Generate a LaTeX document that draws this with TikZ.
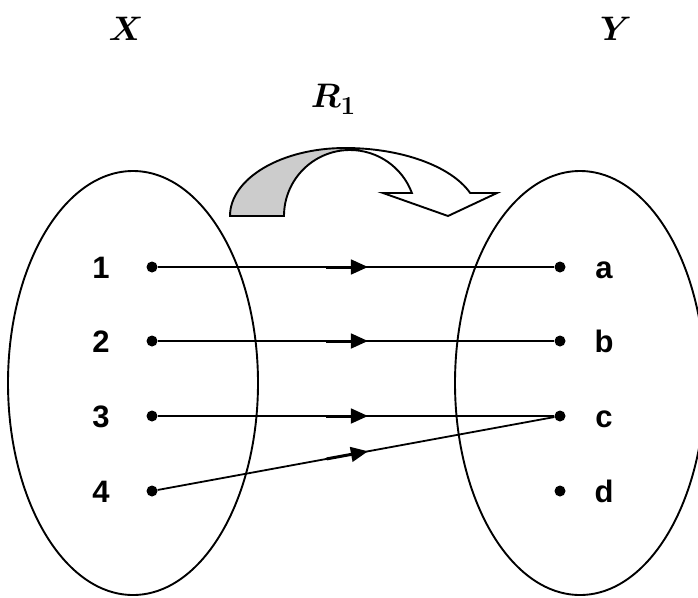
\RequirePackage{fix-cm}
\documentclass[tikz,border=0pt]{standalone}
\usepackage{fontspec}
\setmainfont{Liberation Sans}
\usetikzlibrary{shapes.geometric,arrows.meta,decorations.markings}
\begin{document}
\begin{tikzpicture}[x=1pt,y=-1pt,
  set/.style={draw,ellipse,line width=1.9pt,minimum width=250pt,minimum height=424pt,inner sep=0},
  dot/.style={circle,fill=black,inner sep=0,minimum size=11pt},
  lbl/.style={font=\fontsize{31}{36}\selectfont\bfseries,anchor=base,inner sep=0},
  map/.style={line width=1.8pt,postaction={decorate},decoration={markings,mark=at position 0.53 with {\draw[line width=3pt] (-42pt,0) -- (-12pt,0); \arrow{Triangle[length=17pt,width=15pt]}}}},
  ttl/.style={font=\fontsize{34}{40}\selectfont\boldmath},
  band/.style={line width=1.9pt,line join=miter}]
\useasboundingbox (0,0) rectangle (698,597);
% sets
\node[set] (SX) at (133,383) {};
\node[set] (SY) at (580,383) {};
% titles
\node[ttl] (tx) at (126,29) {$X$};
\node[ttl] (ty) at (616,29) {$Y$};
\node[ttl] (tr) at (333,99) {$R$\raisebox{-7pt}{\fontsize{26}{30}\selectfont$\mathbf{1}$}};
% curved arrow
\fill[gray!40] (230,216) arc[start angle=180,end angle=270,x radius=115,y radius=68] -- (350,150) arc[start angle=270,end angle=180,radius=66] -- cycle;
\draw[band] (230,216) arc[start angle=180,end angle=270,x radius=115,y radius=68] -- (350,150) arc[start angle=270,end angle=180,radius=66] -- cycle;
\draw[band,fill=white] (345,148) arc[start angle=270,end angle=340.2,x radius=133,y radius=68] -- (497,193) -- (448,216) -- (383,193) -- (411.9,193) arc[start angle=339.6,end angle=270,radius=66] -- cycle;
% dots
\node[dot] (d1) at (152,267) {};
\node[dot] (d2) at (152,341) {};
\node[dot] (d3) at (152,416) {};
\node[dot] (d4) at (152,491) {};
\node[dot] (da) at (560,267) {};
\node[dot] (db) at (560,341) {};
\node[dot] (dc) at (560,416) {};
\node[dot] (dd) at (560,491) {};
% labels
\node[lbl] (n1) at (101,278) {1};
\node[lbl] (n2) at (101,352) {2};
\node[lbl] (n3) at (101,427) {3};
\node[lbl] (n4) at (101,502) {4};
\node[lbl] (na) at (604,278) {a};
\node[lbl] (nb) at (604,352) {b};
\node[lbl] (nc) at (604,427) {c};
\node[lbl] (nd) at (604,502) {d};
% mappings
\draw[map] (d1) -- (da);
\draw[map] (d2) -- (db);
\draw[map] (d3) -- (dc);
\draw[map] (d4) -- (dc);
\end{tikzpicture}
\end{document}
